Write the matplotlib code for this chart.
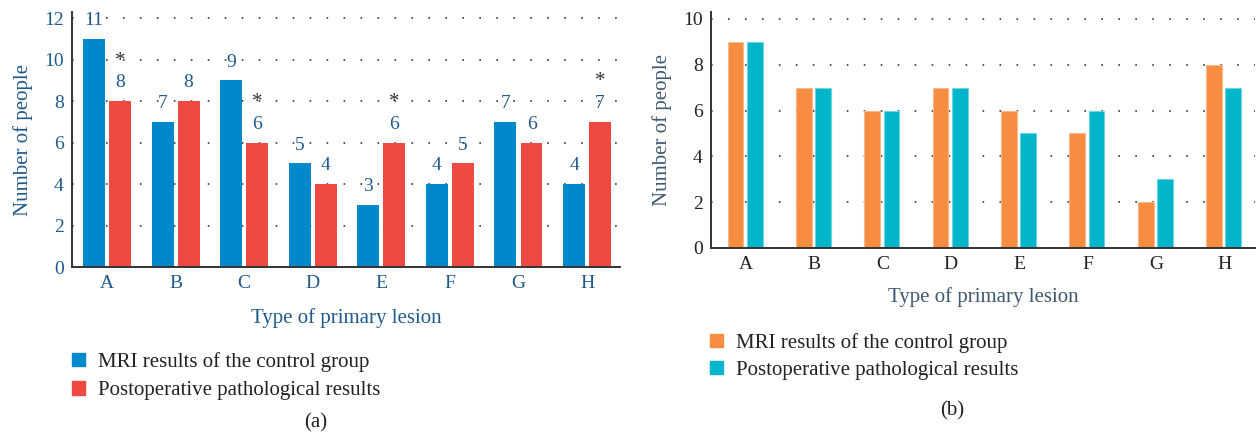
import numpy as np
import matplotlib
matplotlib.use("Agg")
import matplotlib.pyplot as plt
from matplotlib.patches import Patch

plt.rcParams['font.family'] = ['Liberation Serif', 'DejaVu Serif']

# data
categories = ['A', 'B', 'C', 'D', 'E', 'F', 'G', 'H']
mri_a = [11, 7, 9, 5, 3, 4, 7, 4]
patho_a = [8, 8, 6, 4, 6, 5, 6, 7]
starred_a = ['A', 'C', 'E', 'H']

mri_b = [9, 7, 6, 7, 6, 5, 2, 8]
patho_b = [9, 7, 6, 7, 5, 6, 3, 7]

legend_labels = ['MRI results of the control group', 'Postoperative pathological results']

blue_txt = '#1f5a8c'
slate_txt = '#3f5870'
dark_txt = '#222222'

W, H = 1258, 434
fig = plt.figure(figsize=(W / 100, H / 100), dpi=100)


def px_axes(left, top, right, bottom):
    return fig.add_axes([left / W, 1 - bottom / H, (right - left) / W, (bottom - top) / H])


def style_axes(ax, tick_color, xtick_color):
    for s in ['top', 'right']:
        ax.spines[s].set_visible(False)
    for s in ['left', 'bottom']:
        ax.spines[s].set_color('#333333')
        ax.spines[s].set_linewidth(1.4)
    ax.tick_params(length=0, labelsize=14, pad=6)
    ax.tick_params(axis='y', colors=tick_color)
    ax.tick_params(axis='x', colors=xtick_color)
    ax.yaxis.grid(True, linestyle=(0, (0.9, 8.5)), linewidth=1.3, color='#444444')
    ax.set_axisbelow(True)


x = np.arange(len(categories))

# ---- panel (a)
ax1 = px_axes(72, 12, 620, 267)
w = 0.32
ax1.bar(x - 0.19, mri_a, w, color='#0088cc')
ax1.bar(x + 0.19, patho_a, w, color='#ef4a41')
ax1.set_xlim(-0.51, 7.48)
ax1.set_ylim(0, 12.3)
ax1.set_yticks(range(0, 13, 2))
ax1.set_xticks(x)
ax1.set_xticklabels(categories)
style_axes(ax1, blue_txt, blue_txt)
for i in range(len(categories)):
    ax1.annotate(str(mri_a[i]), (x[i] - 0.19, mri_a[i]), xytext=(0, 7), textcoords='offset points',
                 ha='center', va='bottom', fontsize=14, color=blue_txt)
    ax1.annotate(str(patho_a[i]), (x[i] + 0.19, patho_a[i]), xytext=(0, 7), textcoords='offset points',
                 ha='center', va='bottom', fontsize=14, color=blue_txt)
    if categories[i] in starred_a:
        ax1.annotate('*', (x[i] + 0.19, patho_a[i]), xytext=(0, 22), textcoords='offset points',
                     ha='center', va='bottom', fontsize=15, color='#333333')
ax1.set_ylabel('Number of people', fontsize=15, color=blue_txt, labelpad=8)
ax1.set_xlabel('Type of primary lesion', fontsize=15, color=blue_txt, labelpad=11)

# ---- panel (b)
ax2 = px_axes(711, 12, 1255, 248)
wb = 0.23
ax2.bar(x - 0.15, mri_b, wb, color='#f68d40', edgecolor='#fbb98a', linewidth=0.8)
ax2.bar(x + 0.13, patho_b, wb, color='#00b5c9', edgecolor='#6ad6e2', linewidth=0.8)
ax2.set_xlim(-0.51, 7.45)
ax2.set_ylim(0, 10.3)
ax2.set_yticks(range(0, 11, 2))
ax2.set_xticks(x)
ax2.set_xticklabels(categories)
style_axes(ax2, dark_txt, dark_txt)
ax2.set_ylabel('Number of people', fontsize=15, color=slate_txt, labelpad=8)
ax2.set_xlabel('Type of primary lesion', fontsize=15, color=slate_txt, labelpad=10)

# ---- legends
h_a = [Patch(color='#0088cc'), Patch(color='#ef4a41')]
fig.legend(h_a, legend_labels, loc='upper left', bbox_to_anchor=(53 / W, 1 - 333 / H),
           frameon=False, fontsize=15, handlelength=0.62, handleheight=0.62,
           handletextpad=0.62, labelspacing=0.45, labelcolor=dark_txt)
h_b = [Patch(color='#f68d40'), Patch(color='#00b5c9')]
fig.legend(h_b, legend_labels, loc='upper left', bbox_to_anchor=(691 / W, 1 - 314 / H),
           frameon=False, fontsize=15, handlelength=0.62, handleheight=0.62,
           handletextpad=0.62, labelspacing=0.38, labelcolor=dark_txt)

fig.text(316 / W, 1 - 423 / H, '(a)', ha='center', va='center', fontsize=15, color=dark_txt)
fig.text(952 / W, 1 - 411 / H, '(b)', ha='center', va='center', fontsize=15, color=dark_txt)

fig.savefig('out.png', dpi=100)
